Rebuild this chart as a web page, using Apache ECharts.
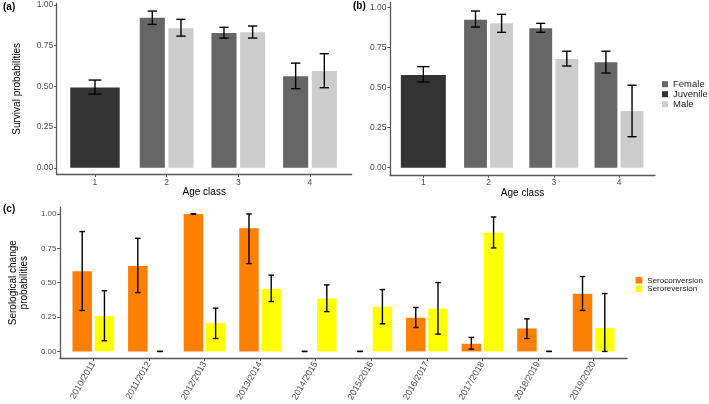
<!DOCTYPE html>
<html>
<head>
<meta charset="utf-8">
<script src="https://cdn.jsdelivr.net/npm/echarts@6/dist/echarts.min.js"></script>
<style>html,body{margin:0;padding:0;background:#fff}#c{width:709px;height:404px}</style>
</head>
<body>
<div id="c"></div>
<script>
// ---- data ----
const ageTicks = [1, 2, 3, 4];
const juvAgeA = [1];
const adultAges = [2, 3, 4];
// panel (a)
const juvA = [0.494], juvA_lo = [0.453], juvA_hi = [0.539];
const femA = [0.922, 0.828, 0.562], femA_lo = [0.881, 0.797, 0.486], femA_hi = [0.963, 0.863, 0.643];
const maleA = [0.857, 0.832, 0.594], maleA_lo = [0.809, 0.797, 0.492], maleA_hi = [0.912, 0.871, 0.701];
// panel (b)
const juvB = [0.578], juvB_lo = [0.534], juvB_hi = [0.630];
const femB = [0.923, 0.869, 0.657], femB_lo = [0.877, 0.844, 0.590], femB_hi = [0.977, 0.900, 0.726];
const maleB = [0.900, 0.678, 0.353], maleB_lo = [0.844, 0.634, 0.193], maleB_hi = [0.956, 0.726, 0.514];
// panel (c)
const years = ['2010/2011','2011/2012','2012/2013','2013/2014','2014/2015','2015/2016','2016/2017','2017/2018','2018/2019','2019/2020'];
const conv = [0.584, 0.622, 1.0, 0.896, 0, 0, 0.245, 0.056, 0.167, 0.419];
const conv_lo = [0.298, 0.428, 1.0, 0.639, 0, 0, 0.174, 0.017, 0.094, 0.298];
const conv_hi = [0.872, 0.823, 1.0, 1.0, 0, 0, 0.320, 0.102, 0.237, 0.545];
const rev = [0.257, 0, 0.206, 0.455, 0.385, 0.325, 0.312, 0.864, 0, 0.170];
const rev_lo = [0.078, 0, 0.094, 0.363, 0.290, 0.201, 0.126, 0.753, 0, 0.0];
const rev_hi = [0.441, 0, 0.315, 0.555, 0.484, 0.450, 0.501, 0.978, 0, 0.421];
const yTicks = [0, 0.25, 0.5, 0.75, 1];

// ---- style ----
const FONT = 'Liberation Sans, Arial, sans-serif';
const COL = {Female: '#666666', Juvenile: '#333333', Male: '#cccccc', Seroconversion: '#ff7f00', Seroreversion: '#ffff00'};
const AXC = '#555555';

function barRender(offsetU, widthU, color) {
  return function (params, api) {
    const x = api.value(0), y = api.value(1);
    const unit = api.size([1, 0])[0];
    const b = api.coord([x, 0]);
    const t = api.coord([x, y]);
    const w = widthU * unit;
    const cx = b[0] + offsetU * unit;
    return {type: 'rect', shape: {x: cx - w / 2, y: t[1], width: w, height: b[1] - t[1]}, style: {fill: color}};
  };
}
function errRender(offsetU, capU) {
  return function (params, api) {
    const x = api.value(0);
    const unit = api.size([1, 0])[0];
    const lo = api.coord([x, api.value(1)]);
    const hi = api.coord([x, api.value(2)]);
    const cx = lo[0] + offsetU * unit;
    const hw = capU * unit / 2;
    const st = {stroke: '#000', lineWidth: 1.4};
    return {type: 'group', children: [
      {type: 'line', shape: {x1: cx, y1: lo[1], x2: cx, y2: hi[1]}, style: st},
      {type: 'line', shape: {x1: cx - hw, y1: lo[1], x2: cx + hw, y2: lo[1]}, style: st},
      {type: 'line', shape: {x1: cx - hw, y1: hi[1], x2: cx + hw, y2: hi[1]}, style: st}
    ]};
  };
}
function zip2(xs, ys) { return xs.map((x, i) => [x, ys[i]]); }
function zip3(xs, lo, hi) { return xs.map((x, i) => [x, lo[i], hi[i]]); }

function barSeries(name, gi, xs, ys, off, w) {
  return {type: 'custom', name: name, xAxisIndex: gi, yAxisIndex: gi, itemStyle: {color: COL[name]},
    renderItem: barRender(off, w, COL[name]), data: zip2(xs, ys), encode: {x: 0, y: 1}, z: 2};
}
function errSeries(gi, xs, lo, hi, off, cap) {
  return {type: 'custom', xAxisIndex: gi, yAxisIndex: gi, renderItem: errRender(off, cap),
    data: zip3(xs, lo, hi), encode: {x: 0, y: [1, 2]}, z: 3, silent: true};
}

function yAxisDef(gi, min, max, fs, name, gap) {
  return {type: 'value', gridIndex: gi, min: min, max: max,
    name: name || '', nameLocation: 'middle', nameRotate: 90, nameGap: gap || 0,
    nameTextStyle: {color: '#000', fontSize: 10, fontFamily: FONT, lineHeight: 11},
    axisLine: {show: true, onZero: false, lineStyle: {color: AXC, width: 1.3}},
    axisTick: {show: true, length: 2.7, customValues: yTicks, lineStyle: {color: AXC, width: 1}},
    axisLabel: {customValues: yTicks, margin: 3.5, formatter: v => v.toFixed(2), color: '#4d4d4d', fontSize: fs, fontFamily: FONT},
    splitLine: {show: false}};
}
function xAxisAge(gi, min, max) {
  return {type: 'value', gridIndex: gi, min: min, max: max,
    name: 'Age class', nameLocation: 'middle', nameGap: 13,
    nameTextStyle: {color: '#000', fontSize: 10, fontFamily: FONT},
    axisLine: {show: true, onZero: false, lineStyle: {color: AXC, width: 1.3}},
    axisTick: {show: true, length: 2.7, customValues: ageTicks, lineStyle: {color: AXC, width: 1}},
    axisLabel: {customValues: ageTicks, margin: 3.5, formatter: v => String(v), color: '#4d4d4d', fontSize: 8.5, fontFamily: FONT},
    splitLine: {show: false}};
}
const yearIdx = years.map((_, i) => i);

const option = {
  animation: false,
  backgroundColor: '#fff',
  textStyle: {fontFamily: FONT},
  grid: [
    {left: 56.7, top: 3.4, width: 295, height: 170.9},
    {left: 390, top: 2.5, width: 265, height: 172.5},
    {left: 45, top: 207.1, width: 582, height: 151.5}
  ],
  xAxis: [
    xAxisAge(0, 0.466, 4.582),
    xAxisAge(1, 0.489, 4.552),
    {type: 'value', gridIndex: 2, min: -0.6, max: 9.6,
      axisLine: {show: true, onZero: false, lineStyle: {color: AXC, width: 1.3}},
      axisTick: {show: true, length: 2.7, customValues: yearIdx, lineStyle: {color: AXC, width: 1}},
      axisLabel: {customValues: yearIdx, rotate: 60, margin: 4, formatter: v => years[Math.round(v)], color: '#4d4d4d', fontSize: 9, fontFamily: FONT},
      splitLine: {show: false}}
  ],
  yAxis: [
    yAxisDef(0, -0.04, 1.01, 8.5, 'Survival probabilities', 34),
    yAxisDef(1, -0.046, 1.03, 8.5),
    yAxisDef(2, -0.05, 1.05, 8, 'Serological change\nprobabilities', 24)
  ],
  legend: [
    {orient: 'vertical', left: 662, top: 79.2, padding: 0, itemWidth: 6, itemHeight: 6, itemGap: 0,
      icon: 'rect', itemStyle: {borderWidth: 0}, textStyle: {fontSize: 9.5, color: '#1a1a1a', lineHeight: 8.1, fontFamily: FONT},
      data: ['Female', 'Juvenile', 'Male'], selectedMode: false},
    {orient: 'vertical', left: 635.5, top: 276.1, padding: 0, itemWidth: 6.8, itemHeight: 6.5, itemGap: 0,
      icon: 'rect', itemStyle: {borderWidth: 0}, textStyle: {fontSize: 8, color: '#1a1a1a', lineHeight: 8.4, fontFamily: FONT},
      data: ['Seroconversion', 'Seroreversion'], selectedMode: false}
  ],
  graphic: [
    {type: 'text', left: 3, top: 2, style: {text: '(a)', font: 'bold 10px ' + FONT, fill: '#000'}},
    {type: 'text', left: 353, top: 1.5, style: {text: '(b)', font: 'bold 10px ' + FONT, fill: '#000'}},
    {type: 'text', left: 3, top: 204, style: {text: '(c)', font: 'bold 10px ' + FONT, fill: '#000'}}
  ],
  series: [
    barSeries('Female', 0, adultAges, femA, -0.2, 0.35),
    barSeries('Juvenile', 0, juvAgeA, juvA, 0, 0.69),
    barSeries('Male', 0, adultAges, maleA, 0.2, 0.35),
    errSeries(0, juvAgeA, juvA_lo, juvA_hi, 0, 0.18),
    errSeries(0, adultAges, femA_lo, femA_hi, -0.2, 0.13),
    errSeries(0, adultAges, maleA_lo, maleA_hi, 0.2, 0.13),

    barSeries('Female', 1, adultAges, femB, -0.2, 0.35),
    barSeries('Juvenile', 1, juvAgeA, juvB, 0, 0.69),
    barSeries('Male', 1, adultAges, maleB, 0.2, 0.35),
    errSeries(1, juvAgeA, juvB_lo, juvB_hi, 0, 0.19),
    errSeries(1, adultAges, femB_lo, femB_hi, -0.2, 0.14),
    errSeries(1, adultAges, maleB_lo, maleB_hi, 0.2, 0.14),

    barSeries('Seroconversion', 2, yearIdx, conv, -0.2, 0.35),
    barSeries('Seroreversion', 2, yearIdx, rev, 0.2, 0.35),
    errSeries(2, yearIdx, conv_lo, conv_hi, -0.2, 0.1),
    errSeries(2, yearIdx, rev_lo, rev_hi, 0.2, 0.1)
  ]
};
const chart = echarts.init(document.getElementById('c'), null, {renderer: 'canvas'});
chart.setOption(option);
</script>
</body>
</html>
